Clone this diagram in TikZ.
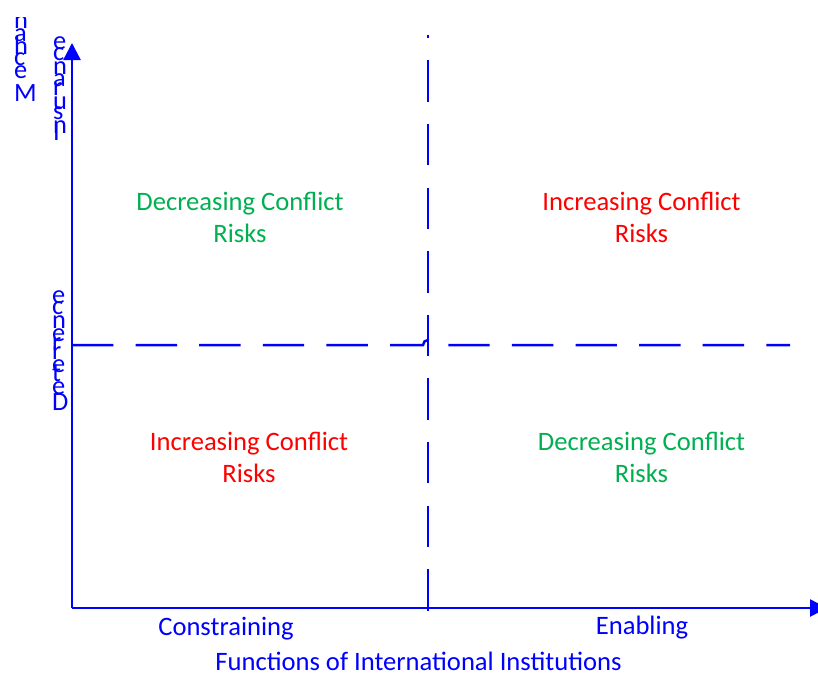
\documentclass[tikz,border=0pt]{standalone}
\usepackage{fontspec}
\setmainfont{Carlito}
\usetikzlibrary{arrows.meta}
\definecolor{axisblue}{RGB}{0,0,255}
\definecolor{riskgreen}{RGB}{0,176,80}
\definecolor{riskred}{RGB}{255,0,0}
\begin{document}
\begin{tikzpicture}[x=1pt,y=-1pt,
  axis/.style={draw=axisblue, line width=2.6pt, -{Triangle[length=17pt,width=17pt]}},
  divider/.style={draw=axisblue, line width=2.5pt, dash pattern=on 41.4pt off 22.2pt},
  lbl/.style={font=\fontsize{26.6}{32}\selectfont, align=center, inner sep=0pt},
  letter/.style={font=\fontsize{26.4}{32}\selectfont, text=axisblue, inner sep=0pt, anchor=base west},
]
\useasboundingbox (0,0) rectangle (818,673);
% coordinates
\coordinate (o) at (72,608);
\coordinate (ytip) at (72,43);
\coordinate (xtip) at (827,608);
\coordinate (vbot) at (428,610.5);
\coordinate (vtop) at (428,35);
\coordinate (hl) at (72,345);
\coordinate (hop) at (423,345);
\coordinate (hr) at (790,345);
% dashed dividers
\draw[divider] (vbot) -- (vtop);
\draw[divider] (hl) -- (hop) arc[start angle=180,end angle=360,radius=5] -- (hr);
% axes
\draw[axis] (o) -- (ytip);
\draw[axis] (o) -- (xtip);
% quadrant labels
\node[lbl, text=riskgreen] (tl) at (240,217) {Decreasing Conflict\\Risks};
\node[lbl, text=riskred] (tr) at (641.5,217) {Increasing Conflict\\Risks};
\node[lbl, text=riskred] (bl) at (249,457) {Increasing Conflict\\Risks};
\node[lbl, text=riskgreen] (br) at (641.5,457) {Decreasing Conflict\\Risks};
% axis labels
\node[lbl, text=axisblue, anchor=base] (cons) at (226,635) {Constraining};
\node[lbl, text=axisblue, anchor=base] (enab) at (642,634) {Enabling};
\node[lbl, text=axisblue, anchor=base] (xtitle) at (418.5,670) {Functions of International Institutions};
% stacked vertical labels
\foreach \ch/\yy [count=\k] in {I/140, n/133.45, s/119.8, u/109.63, r/95.98, a/86.91, n/74.46, c/60.81, e/49.81}
  \node[letter] (ins\k) at (53,\yy) {\ch};
\foreach \ch/\yy [count=\k] in {D/410, e/394.01, t/381.06, e/372.35, r/359.4, r/350.33, e/341.26, n/328.31, c/314.66, e/303.66}
  \node[letter] (det\k) at (52,\yy) {\ch};
\begin{scope}
  \clip (0,17) rectangle (45,110);
  \foreach \ch/\yy [count=\k] in {M/101, e/78.77, c/65.82, h/54.82, a/41.17, n/28.72, i/15.07, s/9.12, m/-1.05}
    \node[letter] (mech\k) at (14,\yy) {\ch};
\end{scope}
\end{tikzpicture}
\end{document}
